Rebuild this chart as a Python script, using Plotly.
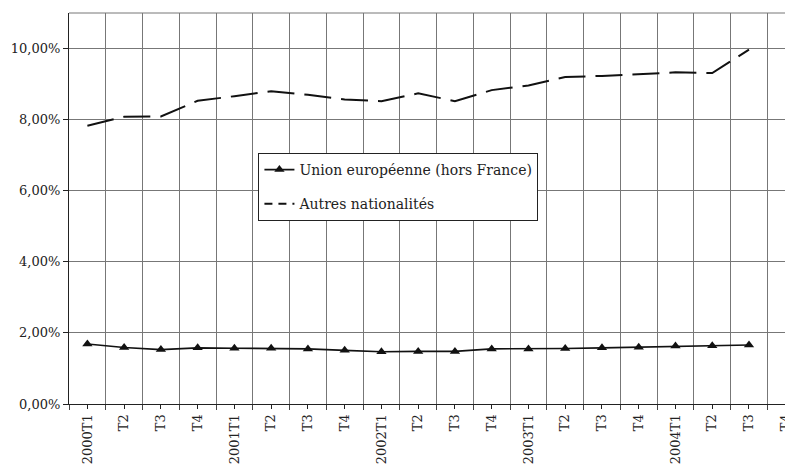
import plotly.graph_objects as go

categories = ["2000T1", "T2", "T3", "T4", "2001T1", "T2", "T3", "T4",
              "2002T1", "T2", "T3", "T4", "2003T1", "T2", "T3", "T4",
              "2004T1", "T2", "T3", "T4"]
ue_values = [1.69, 1.59, 1.53, 1.58, 1.57, 1.57, 1.55, 1.51, 1.47, 1.48,
             1.48, 1.55, 1.55, 1.56, 1.58, 1.60, 1.63, 1.64, 1.66]
autres_values = [7.83, 8.08, 8.09, 8.53, 8.66, 8.80, 8.70, 8.57, 8.52, 8.74,
                 8.52, 8.83, 8.96, 9.20, 9.23, 9.28, 9.33, 9.31, 9.97]
y_ticks = [0, 2, 4, 6, 8, 10]
y_labels = ["0,00%", "2,00%", "4,00%", "6,00%", "8,00%", "10,00%"]

font = "DejaVu Serif"
xi = list(range(len(categories)))

fig = go.Figure()
fig.add_trace(go.Scatter(
    x=xi[:len(ue_values)], y=ue_values, name="Union européenne (hors France)",
    mode="lines+markers", line=dict(color="#111", width=1.6),
    marker=dict(symbol="triangle-up", size=9, color="#111"), legendgroup="a"))
fig.add_trace(go.Scatter(
    x=xi[:len(autres_values)], y=autres_values, name="Autres nationalités",
    mode="lines", line=dict(color="#111", width=2, dash="27px,10px"),
    showlegend=False))
fig.add_trace(go.Scatter(
    x=[None], y=[None], name="Autres nationalités", legendgroup="b",
    mode="lines", line=dict(color="#111", width=2, dash="8px,6px")))

fig.update_layout(
    width=785, height=456,
    margin=dict(l=61, r=0, t=5, b=54),
    plot_bgcolor="white", paper_bgcolor="white",
    font=dict(family=font, size=14, color="#222"),
    showlegend=True,
    legend=dict(x=0.262, y=0.642, xanchor="left", yanchor="top",
                bgcolor="white", bordercolor="#222", borderwidth=1,
                font=dict(family=font, size=14, color="#222"),
                itemwidth=30, tracegroupgap=13),
    shapes=[dict(type="line", xref="paper", yref="paper", x0=0, x1=1, y0=1, y1=1,
                 line=dict(color="#777", width=1))],
)
fig.update_xaxes(
    range=[-0.5, 19.17], tickmode="array", tickvals=xi, ticktext=categories,
    tickangle=-90, ticks="outside", ticklen=4, tickcolor="#222",
    ticklabeloverflow="allow",
    showgrid=False, zeroline=False, showline=True, linecolor="#222", linewidth=1,
    tickfont=dict(family=font, size=13, color="#222"),
    minor=dict(tickvals=[i - 0.5 for i in range(len(categories) + 1)],
               showgrid=True, gridcolor="#777", gridwidth=1,
               ticks="outside", ticklen=5, tickcolor="#444"),
)
fig.update_yaxes(
    range=[0, 11], tickmode="array", tickvals=y_ticks, ticktext=y_labels,
    ticks="outside", ticklen=5, tickcolor="#222",
    showgrid=True, gridcolor="#777", gridwidth=1, zeroline=False,
    showline=True, linecolor="#222", linewidth=1,
    tickfont=dict(family=font, size=13, color="#222"),
)
fig.write_html("out.html")
